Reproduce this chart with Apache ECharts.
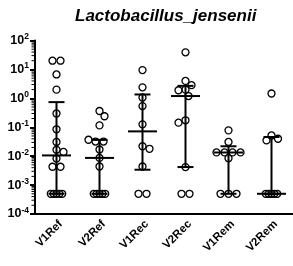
<!DOCTYPE html>
<html><head><meta charset="utf-8">
<script src="https://cdn.jsdelivr.net/npm/echarts@6/dist/echarts.min.js"></script>
<style>html,body{margin:0;padding:0;background:#fff}#c{width:293px;height:266px}</style>
</head><body><div id="c"></div>
<script>
const chartTitle = 'Lactobacillus_jensenii';
const categories = ['V1Ref', 'V2Ref', 'V1Rec', 'V2Rec', 'V1Rem', 'V2Rem'];
const yMin = 1e-4, yMax = 1e2;
const V1Ref = [20, 20, 6.7, 2.0, 0.30, 0.085, 0.031, 0.0166, 0.014, 0.0083, 0.0043, 0.0043, 0.0005, 0.0005, 0.0005, 0.0005, 0.0005];
const V2Ref = [0.365, 0.24, 0.116, 0.037, 0.032, 0.032, 0.017, 0.0087, 0.0044, 0.0005, 0.0005, 0.0005, 0.0005, 0.0005];
const V1Rec = [9.5, 2.4, 1.07, 0.54, 0.126, 0.022, 0.018, 0.0044, 0.0005, 0.0005];
const V2Rec = [39, 4.0, 2.85, 2.0, 1.9, 1.2, 0.174, 0.144, 0.0042, 0.0005, 0.0005];
const V1Rem = [0.078, 0.031, 0.0135, 0.0135, 0.0135, 0.0135, 0.0085, 0.0005, 0.0005, 0.0005];
const V2Rem = [1.47, 0.052, 0.040, 0.035, 0.0005, 0.0005, 0.0005, 0.0005, 0.0005];
const groups = [V1Ref, V2Ref, V1Rec, V2Rec, V1Rem, V2Rem];
const medians = [0.0106, 0.0087, 0.072, 1.2, 0.0134, 0.0005];
const q1 = [0.0005, 0.0005, 0.0034, 0.0042, 0.0005, 0.0005];
const q3 = [0.74, 0.0365, 1.36, 2.7, 0.022, 0.046];

const FONT = 'Liberation Sans';
const minorVals = [];
for (let e = Math.log10(yMin); e < Math.log10(yMax); e++) {
  for (let k = 2; k <= 9; k++) minorVals.push([0, k * Math.pow(10, e)]);
}

const chart = echarts.init(document.getElementById('c'), null, {renderer: 'canvas'});

function buildScatter(offsets) {
  const data = [];
  groups.forEach((g, ci) => g.forEach((v, j) => {
    data.push({value: [ci, v], symbolOffset: [offsets ? offsets[ci][j] : 0, 0]});
  }));
  return data;
}

const option = {
  animation: false,
  backgroundColor: '#fff',
  title: {
    text: chartTitle, left: 70, top: 3,
    textStyle: {fontFamily: FONT, fontSize: 17, fontWeight: 'bold', fontStyle: 'italic', color: '#000'}
  },
  grid: {left: 35, right: -4, top: 40.5, bottom: 52},
  xAxis: {
    type: 'category', data: categories, boundaryGap: true,
    axisLine: {lineStyle: {color: '#000', width: 2}},
    axisTick: {alignWithLabel: true, length: 4, lineStyle: {color: '#000', width: 2}},
    axisLabel: {rotate: 45, margin: 4, interval: 0, verticalAlign: 'top', fontFamily: FONT, fontSize: 11.5, fontWeight: 'bold', color: '#000'},
    splitLine: {show: false}
  },
  yAxis: {
    type: 'log', logBase: 10, min: yMin, max: yMax, interval: 1,
    axisLine: {show: true, lineStyle: {color: '#000', width: 2}},
    axisTick: {show: true, length: 5, lineStyle: {color: '#000', width: 2}},
    splitLine: {show: false},
    axisLabel: {
      margin: 6, color: '#000',
      formatter: v => '{b|10}{s|' + Math.round(Math.log10(v)) + '}',
      rich: {
        b: {fontFamily: FONT, fontSize: 12.5, fontWeight: 'bold', color: '#000'},
        s: {fontFamily: FONT, fontSize: 8.5, fontWeight: 'bold', color: '#000', padding: [0, 0, 7, 0]}
      }
    }
  },
  series: [
    {
      type: 'custom', data: minorVals, clip: false, silent: true, z: 5,
      renderItem: (params, api) => {
        const p = api.coord([0, api.value(1)]);
        const x0 = params.coordSys.x;
        return {type: 'line', shape: {x1: x0 - 3.5, y1: p[1], x2: x0, y2: p[1]}, style: {stroke: '#000', lineWidth: 1}};
      }
    },
    {
      type: 'scatter', symbol: 'circle', symbolSize: 7, z: 3,
      itemStyle: {color: 'rgba(255,255,255,0)', borderColor: '#000', borderWidth: 1.3, opacity: 1},
      data: buildScatter(null)
    },
    {
      type: 'custom', z: 4, clip: false,
      data: categories.map((c, i) => [i, medians[i], q1[i], q3[i]]),
      renderItem: (params, api) => {
        const i = api.value(0);
        const pm = api.coord([i, api.value(1)]);
        const pl = api.coord([i, api.value(2)]);
        const ph = api.coord([i, api.value(3)]);
        const x = pm[0];
        const st = {stroke: '#000', lineWidth: 2};
        const capW = 8, medW = 14.5;
        return {type: 'group', children: [
          {type: 'line', shape: {x1: x, y1: pl[1], x2: x, y2: ph[1]}, style: st},
          {type: 'line', shape: {x1: x - capW, y1: pl[1], x2: x + capW, y2: pl[1]}, style: st},
          {type: 'line', shape: {x1: x - capW, y1: ph[1], x2: x + capW, y2: ph[1]}, style: st},
          {type: 'line', shape: {x1: x - medW, y1: pm[1], x2: x + medW, y2: pm[1]}, style: st}
        ]};
      }
    }
  ]
};
chart.setOption(option);

// beeswarm offsets computed from pixel positions given by the axis
const D = 7;
const offsets = groups.map(g => {
  const py = g.map(v => chart.convertToPixel({yAxisIndex: 0}, v));
  const off = new Array(g.length).fill(null);
  const placed = [];
  const byVal = {};
  g.forEach((v, j) => { (byVal[v] = byVal[v] || []).push(j); });
  Object.keys(byVal).forEach(k => {
    const ids = byVal[k];
    if (ids.length < 2) return;
    const sp = ids.length >= 5 ? 2.85 : 8;
    ids.forEach((j, t) => { off[j] = (t - (ids.length - 1) / 2) * sp; placed.push([off[j], py[j]]); });
  });
  const order = g.map((v, j) => j).filter(j => off[j] === null).sort((a, b) => g[b] - g[a]);
  let side = 1;
  order.forEach(j => {
    for (let s = 0; s < 40; s += 0.5) {
      const cands = s === 0 ? [0] : [side * s, -side * s];
      let found = null;
      for (const c of cands) {
        if (placed.every(p => Math.hypot(p[0] - c, p[1] - py[j]) >= D)) { found = c; break; }
      }
      if (found !== null) {
        off[j] = found; placed.push([found, py[j]]);
        if (found !== 0) side = -Math.sign(found);
        break;
      }
    }
  });
  return off;
});
chart.setOption({series: [{}, {data: buildScatter(offsets)}, {}]});
</script>
</body></html>
